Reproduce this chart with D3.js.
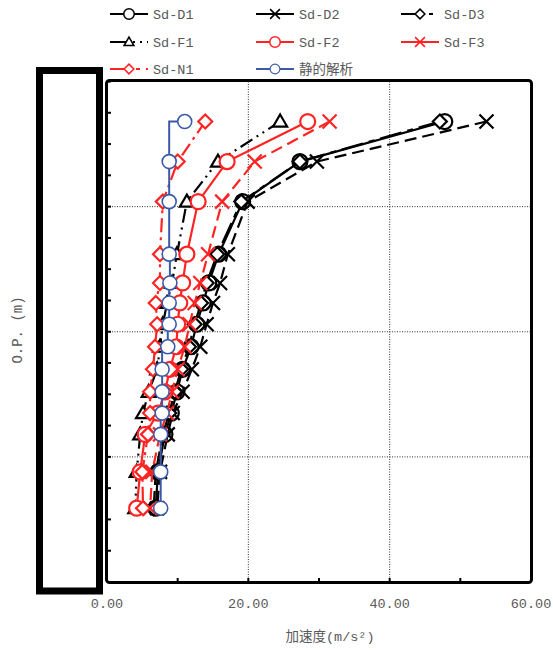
<!DOCTYPE html>
<html><head><meta charset="utf-8">
<script src="https://cdn.jsdelivr.net/npm/d3@7"></script>
<style>
body{margin:0;background:#fff;}
text{font-family:"Liberation Mono","Noto Sans CJK JP",monospace;fill:#595959;}
</style></head>
<body><svg id="c" width="553" height="650"></svg>
<script>
// depth levels (O.P. m, relative)
const levels = [-3.2, -6.4, -9.6, -13.8, -16.1, -17.7, -19.4, -21.2, -23.0, -24.8, -26.5, -28.2, -31.2, -34.1];
const sdD1 = [47.8, 27.3, 19.2, 15.8, 14.4, 13.6, 12.7, 11.9, 10.7, 9.9, 9.1, 8.2, 7.2, 6.9];
const sdD2 = [53.7, 29.7, 19.9, 17.1, 16.0, 15.0, 14.1, 13.2, 12.0, 10.7, 9.3, 8.6, 7.5, 7.1];
const sdD3 = [47.1, 27.3, 19.0, 15.6, 14.1, 13.3, 12.4, 11.6, 10.5, 9.6, 8.8, 7.9, 6.9, 6.6];
const sdF1 = [24.5, 15.7, 11.3, 9.9, 9.2, 8.5, 7.9, 7.5, 7.1, 5.9, 5.1, 4.7, 4.2, 4.0];
const sdF2 = [28.4, 17.0, 12.9, 11.3, 10.7, 10.3, 10.0, 9.8, 8.9, 8.2, 7.2, 5.4, 4.7, 4.2];
const sdF3 = [31.5, 20.9, 16.3, 14.3, 13.2, 12.4, 11.7, 11.0, 10.0, 9.2, 8.5, 7.5, 6.4, 6.1];
const sdN1 = [13.9, 10.0, 7.9, 7.5, 7.5, 6.9, 7.1, 6.8, 6.5, 6.1, 6.1, 5.8, 5.0, 5.1];
const staticRes = [11.0, 8.8, 8.8, 8.8, 8.9, 8.8, 8.8, 8.6, 7.8, 7.8, 7.8, 7.6, 7.6, 7.6];
const seriesNames = ["Sd-D1","Sd-D2","Sd-D3","Sd-F1","Sd-F2","Sd-F3","Sd-N1","静的解析"];
const xTickLabels = [0, 20, 40, 60];
const xLabel = "加速度(m/s²)";
const yLabel = "O.P.  (m)";

const RED = "#ff2424", BLK = "#000", BLU = "#3a5aa8";
const series = [
  {name:seriesNames[0], vals:sdD1, color:BLK, dash:null, marker:"circle"},
  {name:seriesNames[1], vals:sdD2, color:BLK, dash:"12,6", marker:"x"},
  {name:seriesNames[2], vals:sdD3, color:BLK, dash:"22,6,6,6", marker:"diamond"},
  {name:seriesNames[3], vals:sdF1, color:BLK, dash:"14,5,2,5,2,5", marker:"triangle"},
  {name:seriesNames[4], vals:sdF2, color:RED, dash:null, marker:"circle"},
  {name:seriesNames[5], vals:sdF3, color:RED, dash:"12,6", marker:"x"},
  {name:seriesNames[6], vals:sdN1, color:RED, dash:"14,5,3,5", marker:"diamond"},
  {name:seriesNames[7], vals:staticRes, color:BLU, dash:null, marker:"circle", step:true}
];
const legendDash = [null, null, "22,6,4,6", "18,5,2,5,2,5", null, null, "20,6,4,6", null];

const svg = d3.select("#c");
const L=107, R=531, T=81.5, B=582;
const x = d3.scaleLinear().domain([0,60]).range([L,R]);
const y = d3.scaleLinear().domain([-40,0]).range([B,T]);

// left blank label box
svg.append("rect").attr("x",39.5).attr("y",70.5).attr("width",60).attr("height",520.5)
  .attr("fill","#fff").attr("stroke","#000").attr("stroke-width",7);

// gridlines
const g = svg.append("g");
g.selectAll("line.vg").data([20,40]).join("line")
  .attr("x1",d=>x(d)).attr("x2",d=>x(d)).attr("y1",T).attr("y2",B)
  .attr("stroke","#333").attr("stroke-width",1).attr("stroke-dasharray","1,1.5");
g.selectAll("line.hg").data([-30,-20,-10]).join("line")
  .attr("y1",d=>y(d)).attr("y2",d=>y(d)).attr("x1",L).attr("x2",R)
  .attr("stroke","#333").attr("stroke-width",1).attr("stroke-dasharray","1,1.5");

// ticks
const yTicks = d3.range(-40, 0.01, 2.5);
g.selectAll("line.yt").data(yTicks).join("line")
  .attr("x1",L).attr("x2",L+4).attr("y1",d=>y(d)).attr("y2",d=>y(d))
  .attr("stroke","#000").attr("stroke-width",2);
const xTicks = d3.range(0, 60.01, 10);
g.selectAll("line.xt").data(xTicks).join("line")
  .attr("x1",d=>x(d)).attr("x2",d=>x(d)).attr("y1",B).attr("y2",B-4)
  .attr("stroke","#000").attr("stroke-width",2);

// x tick labels
svg.selectAll("text.xl").data(xTickLabels).join("text")
  .attr("x",d=>x(d)).attr("y",608).attr("text-anchor","middle")
  .attr("font-size",13.5).text(d=>d3.format(".2f")(d));

svg.append("text").attr("x",330).attr("y",641).attr("text-anchor","middle")
  .attr("font-size",13.5).text(xLabel);
svg.append("text").attr("transform","translate(22,330) rotate(-90)").attr("text-anchor","middle")
  .attr("font-size",14).text(yLabel);

// marker drawing
function drawMarker(sel, type, color){
  if(type==="circle"){
    sel.append("circle").attr("r", color===BLU?7:7.5).attr("fill","#fff").attr("stroke",color).attr("stroke-width", color===BLU?1.6:2.2);
  } else if(type==="x"){
    sel.append("path").attr("d","M-7,-7L7,7M-7,7L7,-7").attr("fill","none").attr("stroke",color).attr("stroke-width",2.2);
  } else if(type==="diamond"){
    sel.append("path").attr("d","M0,-7L7,0L0,7L-7,0Z").attr("fill","#fff").attr("stroke",color).attr("stroke-width",2.2);
  } else if(type==="triangle"){
    sel.append("path").attr("d","M0,-7L7,5L-7,5Z").attr("fill","#fff").attr("stroke",color).attr("stroke-width",2.2);
  }
}

const plot = svg.append("g");
series.forEach(s=>{
  const pts = s.vals.map((v,i)=>[v, levels[i]]);
  const line = d3.line().x(d=>x(d[0])).y(d=>y(d[1]));
  if(s.step) line.curve(d3.curveStepAfter);
  plot.append("path").attr("d", line(pts)).attr("fill","none")
    .attr("stroke", s.color).attr("stroke-width", s.color===BLU?2:2.2)
    .attr("stroke-dasharray", s.dash);
  pts.forEach(p=>{
    const m = plot.append("g").attr("transform",`translate(${x(p[0])},${y(p[1])})`);
    drawMarker(m, s.marker, s.color);
  });
});

// plot frame
svg.append("rect").attr("x",L-0.5).attr("y",T-1).attr("width",R-L+1).attr("height",B-T+1.5)
  .attr("rx",3).attr("fill","none").attr("stroke","#000").attr("stroke-width",3);

// legend
const legX = [110, 256, 401], legY = [14, 42, 69];
series.forEach((s,i)=>{
  const lx = legX[i%3], ly = legY[Math.floor(i/3)];
  const lg = svg.append("g");
  lg.append("line").attr("x1",lx).attr("x2",lx+38).attr("y1",ly).attr("y2",ly)
    .attr("stroke",s.color).attr("stroke-width",2.2).attr("stroke-dasharray",legendDash[i]);
  const m = lg.append("g").attr("transform",`translate(${lx+19},${ly}) scale(0.7)`);
  drawMarker(m, s.marker, s.color);
  lg.append("text").attr("x",lx+43).attr("y",ly+5).attr("font-size",13.5).text(s.name);
});
</script></body></html>
